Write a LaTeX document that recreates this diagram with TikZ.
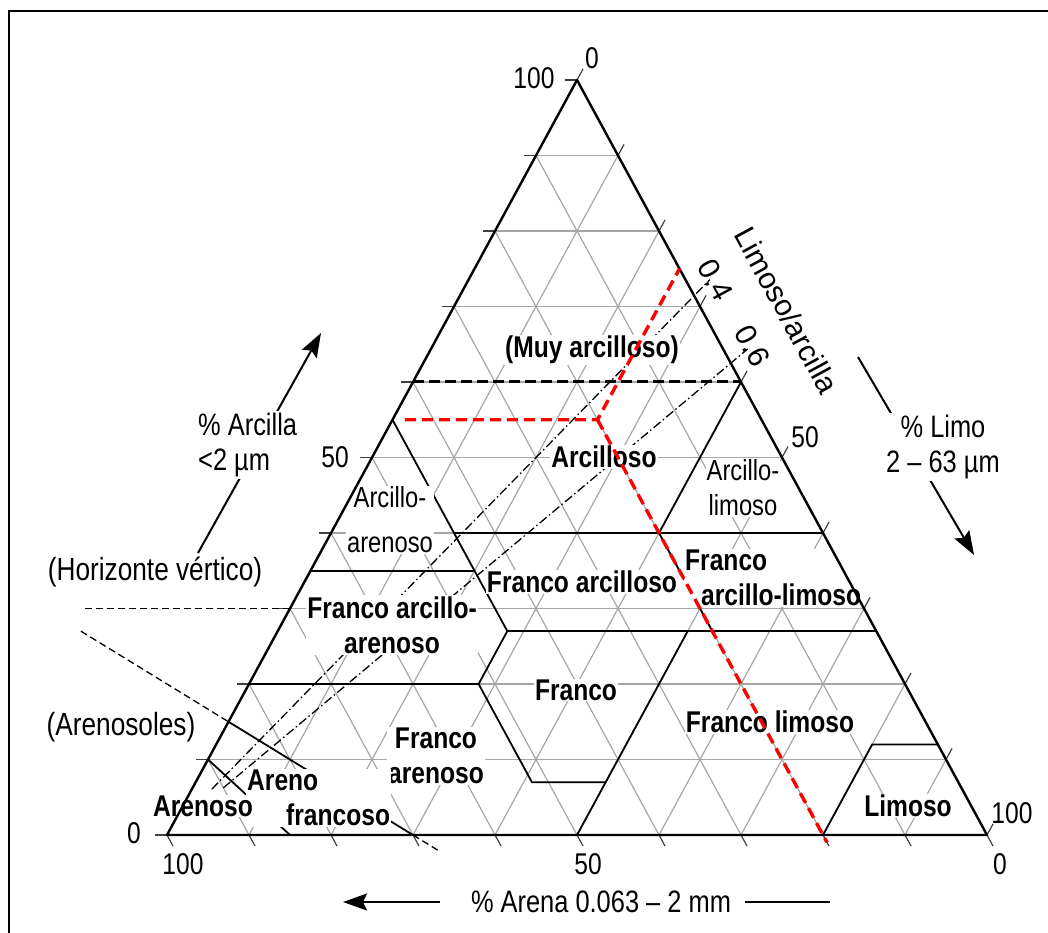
\documentclass[tikz,border=0pt]{standalone}
\usepackage{fontspec}
\setmainfont{Liberation Sans}[FakeStretch=0.82]
\newfontfamily\widesans{Liberation Sans}
\usetikzlibrary{calc,arrows.meta}
\tikzset{
  >={Stealth[length=24pt,width=17pt,inset=4pt]},
  grid line/.style={gray!70, line width=1.2pt},
  tick/.style={black!75, line width=1.2pt},
  side/.style={line width=2.4pt, line join=round},
  border/.style={line width=1.8pt},
  soil/.style={font=\fontsize{30}{35}\selectfont\bfseries, align=center, fill=white, inner sep=1pt},
  soil light/.style={font=\fontsize{29}{35}\selectfont, align=center, fill=white, inner sep=1pt},
  scale label/.style={font=\fontsize{30}{34}\selectfont, inner sep=0pt},
  note label/.style={font=\fontsize{32}{36}\selectfont, inner sep=0pt},
  ratio label/.style={font=\widesans\fontsize{30}{34}\selectfont, inner sep=0pt, rotate=-61.5},
  axis/.style={line width=2pt},
  axis label/.style={font=\fontsize{31}{35}\selectfont, fill=white, inner sep=2pt},
  red cut/.style={red, line width=3.4pt, dash pattern=on 11pt off 6pt},
  black cut/.style={line width=3pt, dash pattern=on 11pt off 5pt},
  horizon/.style={line width=1.3pt, dash pattern=on 7pt off 4pt},
  ratio/.style={line width=1.3pt, dash pattern=on 9pt off 3pt on 1.5pt off 3pt},
}

\begin{document}
\begin{tikzpicture}[x=1pt, y=-1pt]
  \useasboundingbox (0,0) rectangle (1048,933);
  \clip (0,0) rectangle (1048,933);
  \draw[line width=2.2pt] (9,945) -- (9,11) -- (1060,11);

  % corners: sand, silt, clay
  \coordinate (L) at (167,835);
  \coordinate (R) at (987,835);
  \coordinate (A) at (577,80);

  % grid and ticks every 10 %
  \foreach \k [evaluate=\k as \a using \k/100, evaluate=\k as \b using 1-\k/100] in {10,20,...,90} {
    \draw[grid line] (barycentric cs:A=\a,L=\b) -- (barycentric cs:A=\a,R=\b);
    \draw[grid line] (barycentric cs:R=\a,L=\b) -- (barycentric cs:R=\a,A=\b);
    \draw[grid line] (barycentric cs:L=\a,R=\b) -- (barycentric cs:L=\a,A=\b);
  }
  \foreach \k [evaluate=\k as \a using \k/100, evaluate=\k as \b using 1-\k/100] in {0,10,...,100} {
    \draw[tick] (barycentric cs:A=\a,L=\b) -- ++(-12,0);
    \draw[tick] (barycentric cs:L=\a,R=\b) -- ++(6,11);
    \draw[tick] (barycentric cs:R=\a,A=\b) -- ++(6,-11);
  }

  % class corners
  \coordinate (c60l) at (barycentric cs:A=.60,L=.40);
  \coordinate (c60r) at (barycentric cs:A=.60,R=.40);
  \coordinate (c55l) at (barycentric cs:A=.55,L=.45);
  \coordinate (c40a) at (barycentric cs:A=.40,R=.15,L=.45);
  \coordinate (c40b) at (barycentric cs:A=.40,R=.40,L=.20);
  \coordinate (c40r) at (barycentric cs:A=.40,R=.60);
  \coordinate (c35l) at (barycentric cs:A=.35,L=.65);
  \coordinate (c35a) at (barycentric cs:A=.35,R=.20,L=.45);
  \coordinate (c27a) at (barycentric cs:A=.27,R=.28,L=.45);
  \coordinate (c27b) at (barycentric cs:A=.27,R=.53,L=.20);
  \coordinate (c27c) at (barycentric cs:A=.27,R=.50,L=.23);
  \coordinate (c27r) at (barycentric cs:A=.27,R=.73);
  \coordinate (c20l) at (barycentric cs:A=.20,L=.80);
  \coordinate (c20a) at (barycentric cs:A=.20,R=.28,L=.52);
  \coordinate (c15l) at (barycentric cs:A=.15,L=.85);
  \coordinate (c12a) at (barycentric cs:A=.12,R=.80,L=.08);
  \coordinate (c12r) at (barycentric cs:A=.12,R=.88);
  \coordinate (c10l) at (barycentric cs:A=.10,L=.90);
  \coordinate (c7a) at (barycentric cs:A=.07,R=.41,L=.52);
  \coordinate (c7b) at (barycentric cs:A=.07,R=.50,L=.43);
  \coordinate (b15) at (barycentric cs:R=.15,L=.85);
  \coordinate (b30) at (barycentric cs:R=.30,L=.70);
  \coordinate (b50) at (barycentric cs:R=.50,L=.50);
  \coordinate (b80) at (barycentric cs:R=.80,L=.20);
  \coordinate (v30) at (barycentric cs:A=.30,L=.70);
  \coordinate (q4) at (barycentric cs:A=.5,R=.2);
  \coordinate (q6) at (barycentric cs:A=.5,R=.3);

  % class borders
  \draw[border] (c55l) -- (c27a) -- (c20a) -- (c7a) -- (c7b);
  \draw[border] (b50) -- (c27c);
  \draw[border] (c40a) -- (c40r);
  \draw[border] (c35l) -- (c35a);
  \draw[border] (c27a) -- (c27r);
  \draw[border] (c20l) -- (c20a);
  \draw[border] (c40b) -- (c60r);
  \draw[border] (c40b) -- (c27b);
  \draw[border] (b80) -- (c12a) -- (c12r);
  \draw[border] (c10l) -- (b15);
  \draw[border] (c15l) -- (b30);

  % silt/clay ratio lines
  \draw[ratio] ($(L)!0.085!(q4)$) -- ($(L)!1.03!(q4)$);
  \draw[ratio] ($(L)!0.1!(q6)$) -- ($(L)!1.03!(q6)$);

  % class names
  \node[soil] (muy) at (592,350) {(Muy arcilloso)};
  \node[soil] (arcilloso) at (604,457) {Arcilloso};
  \node[soil light] (arc lim) at (743,488) {Arcillo-\\limoso};
  \node[soil light] (arc are) at (390,520) {Arcillo-\\[10pt]arenoso};
  \node[soil] (fr arc) at (582,582) {Franco arcilloso};
  \node[soil, align=left, anchor=west] (fr arc lim) at (684,578) {Franco\\\hspace*{16pt}arcillo-limoso};
  \node[soil] (fr arc are) at (392,625) {Franco arcillo-\\arenoso};
  \node[soil] (franco) at (576,690) {Franco};
  \node[soil] (fr are) at (436,756) {Franco\\arenoso};
  \node[soil] (fr lim) at (770,722) {Franco limoso};
  \node[soil] (limoso) at (908,806) {Limoso};
  \node[soil, align=left, anchor=west] (are fr) at (246,798) {Areno\\\hspace*{39pt}francoso};
  \node[soil] (arenoso) at (203,806) {Arenoso};

  \draw[side] (L) -- (R) -- (A) -- cycle;

  % cut-offs
  \draw[black cut] (c60l) -- (c60r);
  \coordinate (r1) at (barycentric cs:A=.55,R=.015,L=.435);
  \coordinate (r2) at (barycentric cs:A=.55,R=.25,L=.20);
  \coordinate (r3) at (barycentric cs:A=.75,R=.25);
  \coordinate (r4) at (barycentric cs:A=-.01,R=.81,L=.20);
  \draw[red cut] (r1) -- (r2) -- (r3);
  \draw[red cut] (r2) -- (r4);

  % horizons
  \draw[horizon] (v30) -- ++(-208,0);
  \draw[horizon] ($(c15l)!-0.8!(b30)$) -- (c15l);
  \draw[horizon] (b30) -- ($(c15l)!1.15!(b30)$);
  \node[note label] (vertico) at (155,572) {(Horizonte vértico)};
  \node[note label] (arenosoles) at (121,727) {(Arenosoles)};

  % scale numbers
  \node[scale label] (clay100) at (534,78) {100};
  \node[scale label] (silt0) at (592,58) {0};
  \node[scale label] (clay50) at (335,457) {50};
  \node[scale label] (clay0) at (134,833) {0};
  \node[scale label] (sand100) at (183,864) {100};
  \node[scale label] (sand50) at (588,864) {50};
  \node[scale label] (sand0) at (1000,864) {0};
  \node[scale label] (silt100) at (1012,813) {100};
  \node[scale label] (silt50) at (805,437) {50};
  \node[ratio label] (ratio04) at (716,280) {0.4};
  \node[ratio label] (ratio06) at (753,346) {0.6};
  \node[ratio label] (ratio name) at (787,310) {Limoso/arcilla};

  % axes
  \coordinate (clay tail) at (198,553);
  \coordinate (clay head) at (321,333);
  \draw[axis, ->] (clay tail) -- (clay head);
  \node[axis label, align=left, anchor=west] (clay name) at (196,445) {\% Arcilla\\<2 µm};
  \coordinate (silt tail) at (858,357);
  \coordinate (silt head) at (974,555);
  \draw[axis, ->] (silt tail) -- (silt head);
  \node[axis label, align=center] (silt name) at (943,447) {\% Limo\\2 – 63 µm};
  \node[axis label] (sand name) at (601,902) {\% Arena 0.063 – 2 mm};
  \coordinate (sand tail) at (440,902);
  \coordinate (sand head) at (343,902);
  \coordinate (sand end a) at (745,902);
  \coordinate (sand end b) at (830,902);
  \draw[axis, ->] (sand tail) -- (sand head);
  \draw[axis] (sand end a) -- (sand end b);
\end{tikzpicture}
\end{document}
